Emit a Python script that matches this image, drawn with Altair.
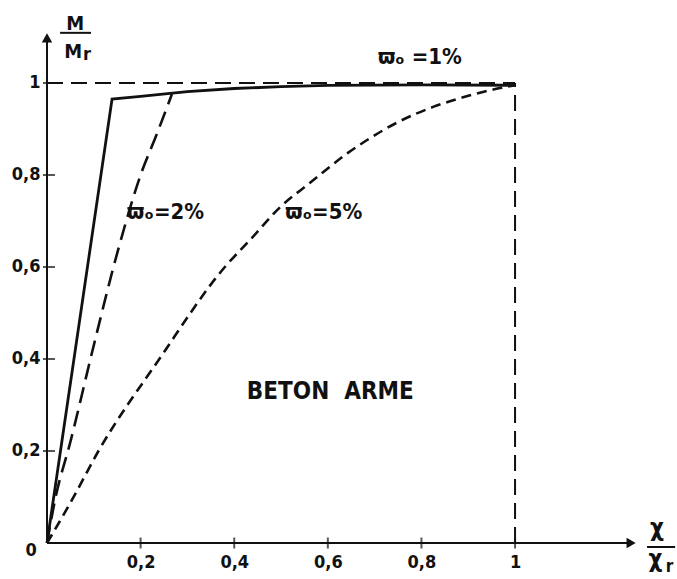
import altair as alt
import pandas as pd

# ---- data ----
# solid curve, w0 = 1 %
x_1 = [0.0, 0.139, 0.20, 0.30, 0.40, 0.50, 0.60, 0.80, 1.0]
y_1 = [0.0, 0.965, 0.971, 0.981, 0.988, 0.992, 0.995, 0.996, 0.995]
# long dashed curve, w0 = 2 %
x_2 = [0.0, 0.017, 0.05, 0.10, 0.15, 0.20, 0.235, 0.267]
y_2 = [0.0, 0.093, 0.22, 0.43, 0.63, 0.80, 0.89, 0.976]
# short dashed curve, w0 = 5 %
x_5 = [0.0, 0.053, 0.11, 0.24, 0.38, 0.434, 0.498, 0.562, 0.643, 0.684, 0.75, 0.825, 0.90, 0.968, 1.0]
y_5 = [0.0, 0.093, 0.20, 0.40, 0.60, 0.659, 0.730, 0.783, 0.848, 0.876, 0.915, 0.948, 0.972, 0.989, 0.995]

tick_vals = [0.2, 0.4, 0.6, 0.8, 1.0]

ann_text = ["ϖₒ =1%", "ϖₒ=2%", "ϖₒ=5%", "BETON\u00a0\u00a0ARME"]
ann_x = [0.707, 0.171, 0.509, 0.427]
ann_y = [1.057, 0.72, 0.72, 0.328]
ann_size = [22, 22, 22, 24]

FONT = "DejaVu Sans Condensed, DejaVu Sans"
INK = "#111111"
XMAX = 1.346
YMAX = 1.1804
LBL = "datum.value == 1 ? '1' : replace(format(datum.value, '.1f'), '.', ',')"


def X(field, **kw):
    return alt.X(field, type="quantitative", title=None,
                 scale=alt.Scale(domain=[0, XMAX], nice=False, zero=False),
                 axis=alt.Axis(values=tick_vals, grid=False, domain=False, ticks=False,
                               labelFont=FONT, labelFontSize=18, labelColor=INK,
                               labelFontWeight="bold", labelPadding=10, labelExpr=LBL),
                 **kw)


def Y(field, **kw):
    return alt.Y(field, type="quantitative", title=None,
                 scale=alt.Scale(domain=[0, YMAX], nice=False, zero=False),
                 axis=alt.Axis(values=tick_vals, grid=False, domain=False, ticks=False,
                               labelFont=FONT, labelFontSize=18, labelColor=INK,
                               labelFontWeight="bold", labelPadding=7, labelExpr=LBL),
                 **kw)


d1 = pd.DataFrame({"x": x_1, "y": y_1})
d2 = pd.DataFrame({"x": x_2, "y": y_2})
d5 = pd.DataFrame({"x": x_5, "y": y_5})

c1 = alt.Chart(d1).mark_line(color=INK, strokeWidth=2.8, strokeJoin="miter").encode(X("x"), Y("y"), order="x:Q")
c2 = alt.Chart(d2).mark_line(color=INK, strokeWidth=2.6, strokeDash=[16, 8], interpolate="monotone").encode(X("x"), Y("y"), order="x:Q")
c5 = alt.Chart(d5).mark_line(color=INK, strokeWidth=2.6, strokeDash=[10, 6], interpolate="monotone").encode(X("x"), Y("y"), order="x:Q")

# axes
axes_df = pd.DataFrame({"x": [0.0, 0.0], "y": [0.0, 0.0], "x2": [1.25, 0.0], "y2": [0.0, 1.10]})
axes = alt.Chart(axes_df).mark_rule(color=INK, strokeWidth=2).encode(X("x"), Y("y"), x2="x2", y2="y2")

arrows_df = pd.DataFrame({"x": [0.0, 1.248], "y": [1.098, 0.0], "shape": ["triangle-up", "triangle-right"]})
arrows = alt.Chart(arrows_df).mark_point(filled=True, color=INK, size=110, opacity=1).encode(
    X("x"), Y("y"), shape=alt.Shape("shape:N", scale=None, legend=None))

xt = pd.DataFrame({"x": tick_vals, "y": [0.0] * 5})
yt = pd.DataFrame({"x": [0.0] * 5, "y": tick_vals})
xticks = alt.Chart(xt).mark_tick(orient="vertical", color=INK, size=11, thickness=2).encode(X("x"), Y("y"))
yticks = alt.Chart(yt).mark_tick(orient="horizontal", color=INK, size=12, thickness=2, xOffset=2).encode(X("x"), Y("y"))

# dashed reference lines
ref_df = pd.DataFrame({"x": [0.0, 1.0], "y": [1.0, 0.0], "x2": [1.0, 1.0], "y2": [1.0, 1.0]})
refs = alt.Chart(ref_df).mark_rule(color=INK, strokeWidth=2, strokeDash=[16, 8]).encode(X("x"), Y("y"), x2="x2", y2="y2")

# annotations
ann_df = pd.DataFrame({"x": ann_x, "y": ann_y, "t": ann_text, "s": ann_size})
ann = alt.Chart(ann_df).mark_text(align="left", baseline="middle", font=FONT, fontWeight="bold", color=INK).encode(
    X("x"), Y("y"), text="t:N", size=alt.Size("s:Q", scale=None, legend=None))

# axis titles (fractions) and origin label
lab_text = ["M", "M", "r", "χ", "χ", "r", "0"]
lab_x = [0.060, 0.056, 0.077, 1.303, 1.300, 1.322, -0.034]
lab_y = [1.128, 1.068, 1.060, 0.030, -0.036, -0.052, -0.017]
lab_size = [20, 20, 18, 24, 24, 17, 18]
lab_align = ["center", "center", "left", "center", "center", "left", "center"]
lab_df = pd.DataFrame({"x": lab_x, "y": lab_y, "t": lab_text, "s": lab_size, "a": lab_align})
labs_c = alt.Chart(lab_df[lab_df["a"] == "center"]).mark_text(align="center", baseline="middle", font=FONT, fontWeight="bold", color=INK).encode(
    X("x"), Y("y"), text="t:N", size=alt.Size("s:Q", scale=None, legend=None))
labs_l = alt.Chart(lab_df[lab_df["a"] == "left"]).mark_text(align="left", baseline="middle", font=FONT, fontWeight="bold", color=INK).encode(
    X("x"), Y("y"), text="t:N", size=alt.Size("s:Q", scale=None, legend=None))

bar_df = pd.DataFrame({"x": [0.028, 1.282], "x2": [0.094, 1.342], "y": [1.109, -0.0087]})
bars = alt.Chart(bar_df).mark_rule(color=INK, strokeWidth=2).encode(X("x"), Y("y"), x2="x2")

chart = alt.layer(refs, c5, c2, c1, axes, arrows, xticks, yticks, ann, labs_c, labs_l, bars).properties(
    width=630, height=543,
    padding={"left": 47, "top": 0, "right": 0, "bottom": 36},
    autosize=alt.AutoSizeParams(type="none"),
    background="white",
).configure_view(stroke=None)

chart.save("out.html", embed_options={"renderer": "svg", "actions": False})
